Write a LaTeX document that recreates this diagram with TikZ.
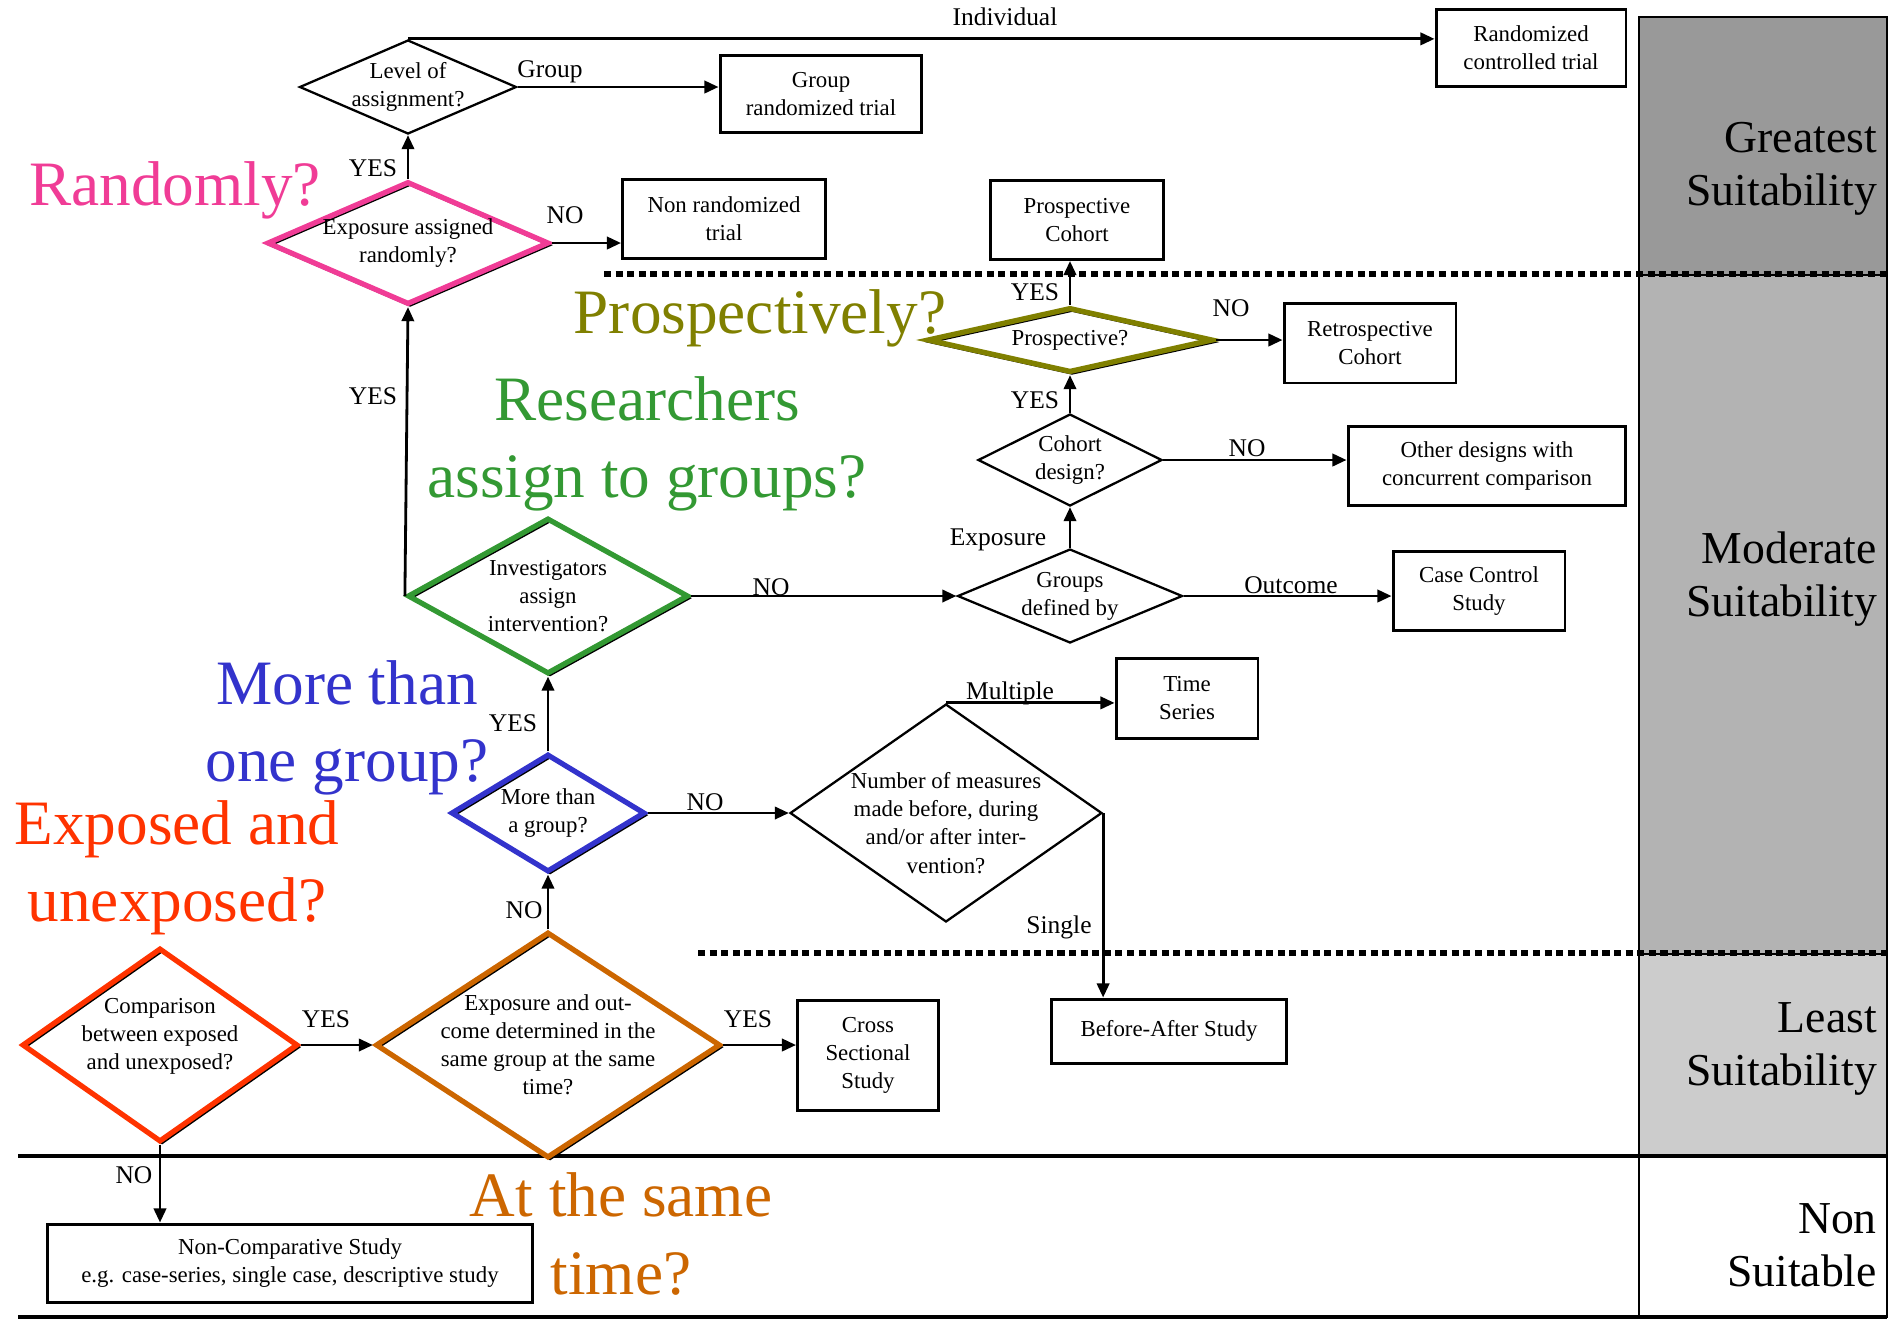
\documentclass[tikz,border=0pt]{standalone}
\usepackage{fontspec}
\usepackage{xcolor}
\usepackage{tikz}
\usetikzlibrary{shapes.geometric,arrows.meta}
\setmainfont{Liberation Serif}

\definecolor{qpink}{RGB}{240,60,150}
\definecolor{qolive}{RGB}{128,128,0}
\definecolor{qgreen}{RGB}{51,153,51}
\definecolor{qblue}{RGB}{51,51,204}
\definecolor{qred}{RGB}{255,51,0}
\definecolor{qorange}{RGB}{204,102,0}
\definecolor{greatgray}{RGB}{153,153,153}
\definecolor{modgray}{RGB}{179,179,179}
\definecolor{leastgray}{RGB}{204,204,204}

\newcommand\txtbox{\fontsize{13}{16}\selectfont}
\newcommand\txtlab{\fontsize{14.5}{17}\selectfont}
\newcommand\txtbig{\fontsize{36}{44}\selectfont}
\newcommand\txtsuit{\fontsize{26}{30}\selectfont}

\tikzset{
  studybox/.style={draw, line width=1.7pt, align=center, font=\txtbox, inner sep=0pt},
  quest/.style={diamond, draw, line width=1.3pt, inner sep=0pt},
  hiquest/.style={diamond, draw=#1, line width=3pt, inner sep=0pt,
    preaction={draw=black, line width=1.3pt, transform canvas={xshift=1.2pt,yshift=-1.2pt}}},
  qtext/.style={align=center, font=\txtbox},
  lab/.style={font=\txtlab, inner sep=0pt},
  bigq/.style={align=center, font=\txtbig, text=#1},
  suit/.style={align=right, font=\txtsuit, anchor=east},
  arr/.style={-{Triangle[length=8pt,width=7pt]}, line width=1.6pt},
  dotsep/.style={line width=3.4pt, dash pattern=on 4pt off 2.6pt},
}

\begin{document}
\begin{tikzpicture}[x=0.02cm, y=-0.02cm]
\useasboundingbox (0,0) rectangle (1894,1320);

% suitability column
\filldraw[fill=greatgray, line width=0.6pt] (1639,17) rectangle (1887,275);
\filldraw[fill=modgray, line width=0.6pt] (1639,275) rectangle (1887,954);
\filldraw[fill=leastgray, line width=0.6pt] (1639,954) rectangle (1887,1156);
\draw[line width=0.6pt] (1639,1156) rectangle (1887,1317);

\node[suit] (greatest) at (1883,169) {Greatest\\Suitability};
\node[suit] (moderate) at (1883,579) {Moderate\\Suitability};
\node[suit] (least) at (1883,1049) {Least\\Suitability};
\node[suit] (nonsuit) at (1883,1245) {Non\\Suitable};

% level separators
\draw[dotsep] (604,274) -- (1887,274);
\draw[dotsep] (698,953) -- (1887,953);
\draw[line width=2.8pt] (18,1156) -- (1887,1156);
\draw[line width=2.8pt] (18,1317) -- (1887,1317);

% questions
\node[quest, minimum width=4.34cm, minimum height=1.88cm,
  label={[qtext]center:Level of\\assignment?}] (level) at (408,87) {};
\node[hiquest=qpink, minimum width=5.64cm, minimum height=2.46cm,
  label={[qtext]center:Exposure assigned\\randomly?}] (random) at (408,243) {};
\node[hiquest=qgreen, minimum width=5.62cm, minimum height=3.12cm,
  label={[qtext]center:Investigators\\assign\\intervention?}] (invest) at (548,596) {};
\node[quest, minimum width=4.5cm, minimum height=1.88cm,
  label={[qtext]center:Groups\\defined by}] (groups) at (1070,596) {};
\node[quest, minimum width=3.68cm, minimum height=1.84cm,
  label={[qtext]center:Cohort\\design?}] (cohort) at (1070,460) {};
\node[hiquest=qolive, minimum width=5.72cm, minimum height=1.3cm,
  label={[qtext]center:Prospective?}] (prosp) at (1070,340) {};
\node[hiquest=qblue, minimum width=3.88cm, minimum height=2.36cm,
  label={[qtext]center:More than\\a group?}] (moregrp) at (548,813) {};
\node[quest, minimum width=6.24cm, minimum height=4.36cm,
  label={[qtext, yshift=-0.2cm]center:Number of measures\\made before, during\\and/or after inter-\\vention?}] (measures) at (946,813) {};
\node[hiquest=qorange, minimum width=6.9cm, minimum height=4.52cm,
  label={[qtext]center:Exposure and out-\\come determined in the\\same group at the same\\time?}] (sametime) at (548,1045) {};
\node[hiquest=qred, minimum width=5.52cm, minimum height=3.88cm,
  label={[qtext, yshift=0.18cm]center:Comparison\\between exposed\\and unexposed?}] (compare) at (160,1045) {};

% study designs
\node[studybox, minimum width=3.8cm, minimum height=1.54cm] (rct) at (1531,48) {Randomized\\controlled trial};
\node[studybox, minimum width=4.04cm, minimum height=1.54cm] (grouprt) at (821,94) {Group\\randomized trial};
\node[studybox, minimum width=4.06cm, minimum height=1.58cm] (nonrand) at (724,219) {Non randomized\\trial};
\node[studybox, minimum width=3.46cm, minimum height=1.58cm] (prospco) at (1077,220) {Prospective\\Cohort};
\node[studybox, minimum width=3.44cm, minimum height=1.6cm] (retroco) at (1370,343) {Retrospective\\Cohort};
\node[studybox, minimum width=5.56cm, minimum height=1.58cm] (otherdes) at (1487,466) {Other designs with\\concurrent comparison};
\node[studybox, minimum width=3.44cm, minimum height=1.58cm] (casectl) at (1479,591) {Case Control\\Study};
\node[studybox, minimum width=2.84cm, minimum height=1.6cm] (timeser) at (1187,698) {Time\\Series};
\node[studybox, minimum width=4.7cm, minimum height=1.28cm] (beforeafter) at (1169,1031) {Before-After Study};
\node[studybox, minimum width=2.82cm, minimum height=2.2cm] (crosssec) at (868,1055) {Cross\\Sectional\\Study};
\node[studybox, minimum width=9.7cm, minimum height=1.56cm] (noncomp) at (290,1263) {Non-Comparative Study\\e.g. case-series, single case, descriptive study};

% connectors
\draw[arr] (level.north) -- (level.north -| rct.west);
\draw[arr] (level.east) -- (level.east -| grouprt.west);
\draw[arr] (random.north) -- (level.south);
\draw[arr] (random.east) -- (random.east -| nonrand.west);
\draw[arr] (invest.west) -- (random.south);
\draw[arr] (invest.east) -- (groups.west);
\draw[arr] (groups.east) -- (groups.east -| casectl.west);
\draw[arr] (groups.north) -- (cohort.south);
\draw[arr] (cohort.east) -- (cohort.east -| otherdes.west);
\draw[arr] (cohort.north) -- (prosp.south);
\draw[arr] (prosp.east) -- (prosp.east -| retroco.west);
\draw[arr] (prosp.north) -- (prosp.north |- prospco.south);
\draw[arr] (moregrp.north) -- (invest.south);
\draw[arr] (moregrp.east) -- (measures.west);
\draw[arr] (measures.north) -- (measures.north -| timeser.west);
\draw[arr] (measures.east) -- (measures.east |- beforeafter.north);
\draw[arr] (sametime.north) -- (moregrp.south);
\draw[arr] (compare.east) -- (sametime.west);
\draw[arr] (sametime.east) -- (sametime.east -| crosssec.west);
\draw[arr] (compare.south) -- (compare.south |- noncomp.north);

% connector labels
\node[lab] (l-indiv) at (1005,17) {Individual};
\node[lab] (l-group) at (550,72) {Group};
\node[lab] (l-yes1) at (373,168) {YES};
\node[lab] (l-no1) at (565,215) {NO};
\node[lab] (l-yes2) at (373,396) {YES};
\node[lab] (l-no2) at (771,587) {NO};
\node[lab] (l-expo) at (998,540) {Exposure};
\node[lab] (l-outc) at (1291,585) {Outcome};
\node[lab] (l-yes3) at (1035,400) {YES};
\node[lab] (l-no3) at (1247,448) {NO};
\node[lab] (l-yes4) at (1035,292) {YES};
\node[lab] (l-no4) at (1231,308) {NO};
\node[lab] (l-yes5) at (513,723) {YES};
\node[lab] (l-no5) at (705,802) {NO};
\node[lab] (l-mult) at (1010,693) {Multiple};
\node[lab] (l-single) at (1059,927) {Single};
\node[lab] (l-no6) at (524,910) {NO};
\node[lab] (l-yes6) at (326,1019) {YES};
\node[lab] (l-yes7) at (748,1019) {YES};
\node[lab] (l-no7) at (134,1175) {NO};

% guiding questions
\node[bigq=qpink] (g-random) at (175,190) {Randomly?};
\node[bigq=qolive] (g-prosp) at (760,318) {Prospectively?};
\node[bigq=qgreen] (g-assign) at (647,444) {Researchers\\assign to groups?};
\node[bigq=qblue] (g-more) at (347,728) {More than\\one group?};
\node[bigq=qred] (g-expo) at (177,868) {Exposed and\\unexposed?};
\node[bigq=qorange] (g-same) at (621,1234) {At the same\\time?};

\end{tikzpicture}
\end{document}
